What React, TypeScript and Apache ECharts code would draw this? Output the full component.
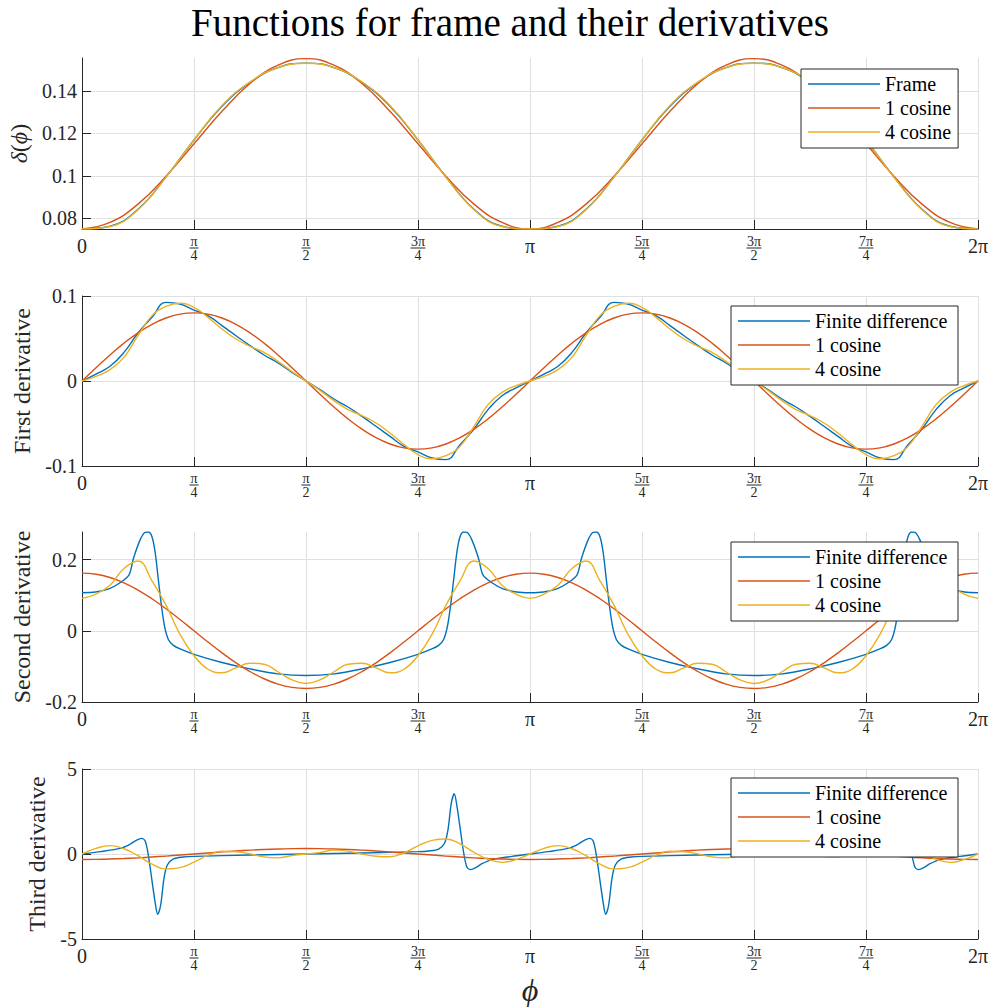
import React, { useEffect, useRef } from 'react';
import * as echarts from 'echarts';

const PI = Math.PI;

// ---------- sample positions (units of π) over one period [0, π] ----------
const P16 = [0, 0.0625, 0.125, 0.1875, 0.25, 0.3125, 0.375, 0.4375, 0.5, 0.5625, 0.625, 0.6875, 0.75, 0.8125, 0.875, 0.9375, 1];
const P32 = [0, 0.03125, 0.0625, 0.09375, 0.125, 0.15625, 0.1875, 0.21875, 0.25, 0.28125, 0.3125, 0.34375, 0.375, 0.40625, 0.4375, 0.46875, 0.5,
  0.53125, 0.5625, 0.59375, 0.625, 0.65625, 0.6875, 0.71875, 0.75, 0.78125, 0.8125, 0.84375, 0.875, 0.90625, 0.9375, 0.96875, 1];

// ---------- panel 1: δ(ϕ) ----------
const FRAME = [0.0750, 0.0763, 0.0843, 0.0995, 0.1169, 0.1328, 0.1440, 0.1510, 0.1531, 0.1510, 0.1440, 0.1328, 0.1169, 0.0995, 0.0843, 0.0763, 0.0750];
const COS1_D0 = [0.0750, 0.0781, 0.0867, 0.0998, 0.1151, 0.1304, 0.1435, 0.1521, 0.1552, 0.1521, 0.1435, 0.1304, 0.1151, 0.0998, 0.0867, 0.0781, 0.0750];
const COS4_D0 = [0.0750, 0.0762, 0.0841, 0.0994, 0.1170, 0.1331, 0.1442, 0.1510, 0.1530, 0.1510, 0.1442, 0.1331, 0.1170, 0.0994, 0.0841, 0.0762, 0.0750];

// ---------- panel 2: first derivative ----------
const FD_D1 = [0, 0.0082, 0.0173, 0.0337, 0.0565, 0.0749, 0.0925, 0.0906, 0.0835, 0.0769, 0.0651, 0.0533, 0.0416, 0.0306, 0.0212, 0.0102, 0,
  -0.0102, -0.0212, -0.0306, -0.0416, -0.0533, -0.0651, -0.0769, -0.0835, -0.0906, -0.0925, -0.0749, -0.0565, -0.0337, -0.0173, -0.0082, 0];
const COS1_D1 = [0, 0.0156, 0.0307, 0.0446, 0.0567, 0.0667, 0.0741, 0.0787, 0.0802, 0.0787, 0.0741, 0.0667, 0.0567, 0.0446, 0.0307, 0.0156, 0,
  -0.0156, -0.0307, -0.0446, -0.0567, -0.0667, -0.0741, -0.0787, -0.0802, -0.0787, -0.0741, -0.0667, -0.0567, -0.0446, -0.0307, -0.0156, 0];
const COS4_D1 = [0, 0.0055, 0.0133, 0.0278, 0.0533, 0.0769, 0.0878, 0.0914, 0.0867, 0.0749, 0.0612, 0.0494, 0.0408, 0.0337, 0.0231, 0.0110, 0,
  -0.0110, -0.0231, -0.0337, -0.0408, -0.0494, -0.0612, -0.0749, -0.0867, -0.0914, -0.0878, -0.0769, -0.0533, -0.0278, -0.0133, -0.0055, 0];

// ---------- panel 3: second derivative ----------
const FD_D2_POS = [0, 0.03, 0.06, 0.085, 0.105, 0.115, 0.13, 0.14, 0.148, 0.156, 0.163, 0.17, 0.178, 0.185, 0.193, 0.204, 0.219, 0.25, 0.3125, 0.375, 0.4375, 0.5,
  0.5625, 0.625, 0.6875, 0.75, 0.781, 0.796, 0.807, 0.815, 0.822, 0.83, 0.837, 0.844, 0.852, 0.86, 0.87, 0.885, 0.895, 0.915, 0.94, 0.97, 1];
const FD_D2 = [0.107, 0.109, 0.118, 0.135, 0.157, 0.204, 0.256, 0.276, 0.2775, 0.265, 0.223, 0.148, 0.064, 0.008, -0.025, -0.041, -0.051, -0.066, -0.089, -0.107, -0.121, -0.1255,
  -0.121, -0.107, -0.089, -0.066, -0.051, -0.041, -0.025, 0.008, 0.064, 0.148, 0.223, 0.265, 0.2775, 0.276, 0.256, 0.204, 0.157, 0.135, 0.118, 0.109, 0.107];
const COS1_D2 = [0.162, 0.1589, 0.1497, 0.1347, 0.1145, 0.0900, 0.0620, 0.0316, 0, -0.0316, -0.0620, -0.0900, -0.1145, -0.1347, -0.1497, -0.1589, -0.162,
  -0.1589, -0.1497, -0.1347, -0.1145, -0.0900, -0.0620, -0.0316, 0, 0.0316, 0.0620, 0.0900, 0.1145, 0.1347, 0.1497, 0.1589, 0.162];
const COS4_D2 = [0.091, 0.103, 0.128, 0.175, 0.196, 0.140, 0.072, -0.010, -0.070, -0.108, -0.118, -0.104, -0.091, -0.094, -0.115, -0.138, -0.148,
  -0.138, -0.115, -0.094, -0.091, -0.104, -0.118, -0.108, -0.070, -0.010, 0.072, 0.140, 0.196, 0.175, 0.128, 0.103, 0.091];

// ---------- panel 4: third derivative ----------
const FD_D3_POS = [0, 0.04, 0.085, 0.107, 0.122, 0.133, 0.141, 0.148, 0.1555, 0.163, 0.169, 0.1756, 0.183, 0.1905, 0.204, 0.226, 0.25, 0.375, 0.5,
  0.625, 0.75, 0.774, 0.796, 0.8095, 0.817, 0.8244, 0.831, 0.837, 0.8445, 0.852, 0.859, 0.867, 0.878, 0.893, 0.915, 0.96, 1];
const FD_D3 = [0, 0.14, 0.33, 0.57, 0.82, 0.92, 0.76, -0.06, -1.43, -2.8, -3.55, -3.0, -1.43, -0.65, -0.29, -0.18, -0.14, -0.06, 0,
  0.06, 0.14, 0.18, 0.29, 0.65, 1.43, 3.0, 3.55, 2.8, 1.43, 0.06, -0.76, -0.92, -0.82, -0.57, -0.33, -0.14, 0];
const COS1_D3 = [-0.32, -0.314, -0.296, -0.266, -0.226, -0.178, -0.122, -0.062, 0, 0.062, 0.122, 0.178, 0.226, 0.266, 0.296, 0.314, 0.32,
  0.314, 0.296, 0.266, 0.226, 0.178, 0.122, 0.062, 0, -0.062, -0.122, -0.178, -0.226, -0.266, -0.296, -0.314, -0.32];
const COS4_D3 = [0, 0.33, 0.49, 0.31, -0.10, -0.60, -0.88, -0.80, -0.48, -0.07, 0.16, 0.13, 0.01, -0.17, -0.23, -0.09, 0,
  0.09, 0.23, 0.17, -0.01, -0.13, -0.16, 0.07, 0.48, 0.80, 0.88, 0.60, 0.10, -0.31, -0.49, -0.33, 0];

// ---------- ticks and labels ----------
const X_TICKS_QUARTER_PI = [0, 1, 2, 3, 4, 5, 6, 7, 8];
const X_TICK_NUM = ['0', 'π', 'π', '3π', 'π', '5π', '3π', '7π', '2π'];
const X_TICK_DEN = ['', '4', '2', '4', '', '4', '2', '4', ''];
const Y_TICKS = [
  [0.08, 0.1, 0.12, 0.14],
  [-0.1, 0, 0.1],
  [-0.2, 0, 0.2],
  [-5, 0, 5],
];
const Y_RANGES = [[0.075, 0.1555], [-0.1, 0.1], [-0.2, 0.2775], [-5, 5]];
const Y_NAMES = ['{i|δ}({i|ϕ})', 'First derivative', 'Second derivative', 'Third derivative'];
const LEGENDS = [
  ['Frame', '1 cosine', '4 cosine'],
  ['Finite difference', '1 cosine', '4 cosine'],
  ['Finite difference', '1 cosine', '4 cosine'],
  ['Finite difference', '1 cosine', '4 cosine'],
];
const TITLE = 'Functions for frame and their derivatives';
const X_NAME = 'ϕ';

const SERIES_DATA: [number[], number[]][][] = [
  [[P16, FRAME], [P16, COS1_D0], [P16, COS4_D0]],
  [[P32, FD_D1], [P32, COS1_D1], [P32, COS4_D1]],
  [[FD_D2_POS, FD_D2], [P32, COS1_D2], [P32, COS4_D2]],
  [[FD_D3_POS, FD_D3], [P32, COS1_D3], [P32, COS4_D3]],
];

// ---------- layout / style (not data) ----------
const FONT = '"Liberation Serif", "DejaVu Serif", serif';
const AX = '#262626';
const GRIDC = '#e0e0e0';
const COLORS = ['#0072BD', '#D95319', '#EDB120'];
const GRIDS = [
  { top: 58, height: 171 },
  { top: 296, height: 170 },
  { top: 532, height: 170 },
  { top: 769, height: 170 },
];
const NAME_GAPS = [60, 57, 58, 42];
const LEGEND_POS = [
  { left: 801, top: 69, tw: 66 },
  { left: 731, top: 306, tw: 136 },
  { left: 731, top: 542, tw: 136 },
  { left: 731, top: 778, tw: 136 },
];

function periodic(pos: number[], vals: number[]): [number, number][] {
  const out: [number, number][] = [];
  for (let rep = 0; rep < 2; rep++) {
    pos.forEach((p, i) => {
      if (rep === 1 && i === 0) return;
      out.push([(p + rep) * PI, vals[i]]);
    });
  }
  return out;
}

function xLabel(v: number): string {
  const i = Math.round(v / (PI / 4));
  const n = X_TICK_NUM[i];
  const d = X_TICK_DEN[i];
  if (!d) return `{b|${n}}`;
  const bar = n.length > 1 ? 'lw' : 'ls';
  return `{n|${n}}\n{${bar}|\u00a0}\n{d|${d}}`;
}

function buildOption() {
  const xTicks = X_TICKS_QUARTER_PI.map((k) => (k * PI) / 4);
  const grid = GRIDS.map((g) => ({ left: 82, width: 896, top: g.top, height: g.height, outerBoundsMode: 'none' }));
  const xAxis = GRIDS.map((_, i) => ({
    type: 'value',
    gridIndex: i,
    min: 0,
    max: 2 * PI,
    axisLine: { show: true, onZero: false, lineStyle: { color: AX, width: 1 } },
    axisTick: { show: true, inside: true, length: 9, customValues: xTicks, lineStyle: { color: AX, width: 1 } },
    axisLabel: {
      customValues: xTicks,
      margin: 7,
      formatter: xLabel,
      color: AX,
      fontFamily: FONT,
      rich: {
        b: { fontSize: 20, lineHeight: 20, fontFamily: FONT, color: AX },
        n: { fontSize: 14, lineHeight: 11, fontFamily: FONT, color: AX },
        d: { fontSize: 14, lineHeight: 13, fontFamily: FONT, color: AX },
        ls: { width: 9, height: 1, lineHeight: 2, fontSize: 1, backgroundColor: AX },
        lw: { width: 15, height: 1, lineHeight: 2, fontSize: 1, backgroundColor: AX },
      },
    },
    splitLine: { show: true, lineStyle: { color: GRIDC, width: 1 } },
    ...(i === 3
      ? {
          name: X_NAME,
          nameLocation: 'middle',
          nameGap: 46,
          nameTextStyle: { fontSize: 32, lineHeight: 34, fontStyle: 'italic', fontFamily: FONT, color: AX, verticalAlign: 'middle' },
        }
      : {}),
  }));
  const yAxis = GRIDS.map((_, i) => ({
    type: 'value',
    gridIndex: i,
    min: Y_RANGES[i][0],
    max: Y_RANGES[i][1],
    axisLine: { show: true, onZero: false, lineStyle: { color: AX, width: 1 } },
    axisTick: { show: true, inside: true, length: 9, customValues: Y_TICKS[i], lineStyle: { color: AX, width: 1 } },
    axisLabel: { customValues: Y_TICKS[i], margin: 5, fontSize: 20, fontFamily: FONT, color: AX },
    splitLine: { show: true, lineStyle: { color: GRIDC, width: 1 } },
    name: Y_NAMES[i],
    nameLocation: 'middle',
    nameGap: NAME_GAPS[i],
    nameRotate: 90,
    nameTextStyle: {
      fontSize: 24,
      fontFamily: FONT,
      color: AX,
      verticalAlign: 'middle',
      rich: { i: { fontSize: 24, fontStyle: 'italic', fontFamily: FONT, color: AX } },
    },
  }));
  const series: any[] = [];
  SERIES_DATA.forEach((panel, i) => {
    panel.forEach(([pos, vals], j) => {
      series.push({
        type: 'line',
        name: LEGENDS[i][j],
        xAxisIndex: i,
        yAxisIndex: i,
        data: periodic(pos, vals),
        showSymbol: false,
        symbol: 'none',
        smooth: j === 0 && i >= 2 ? 0.3 : 0.45,
        color: COLORS[j],
        lineStyle: { color: COLORS[j], width: 1.4 },
      });
    });
  });
  const legend = LEGENDS.map((names, i) => ({
    data: names,
    left: LEGEND_POS[i].left,
    top: LEGEND_POS[i].top,
    orient: 'vertical',
    icon: 'rect',
    itemWidth: 72,
    itemHeight: 1.5,
    itemGap: 4,
    padding: [5, 7, 6, 7],
    backgroundColor: '#ffffff',
    borderColor: AX,
    borderWidth: 1,
    selectedMode: false,
    z: 20,
    textStyle: { fontFamily: FONT, fontSize: 20, lineHeight: 20, color: '#000', width: LEGEND_POS[i].tw },
  }));
  return {
    animation: false,
    backgroundColor: '#ffffff',
    grid,
    xAxis,
    yAxis,
    series,
    legend,
    graphic: [
      {
        type: 'text',
        x: 510,
        y: 22,
        style: { text: TITLE, font: `39px ${FONT}`, fill: '#000', align: 'center', verticalAlign: 'middle' },
      },
    ],
  };
}

export default function App() {
  const ref = useRef<HTMLDivElement>(null);
  useEffect(() => {
    if (!ref.current) return;
    const chart = echarts.init(ref.current, null, { renderer: 'svg' });
    chart.setOption(buildOption() as any);
    return () => chart.dispose();
  }, []);
  return (
    <div
      ref={ref}
      style={{ position: 'absolute', left: 0, top: 0, width: 992, height: 1007, background: '#fff' }}
    />
  );
}
